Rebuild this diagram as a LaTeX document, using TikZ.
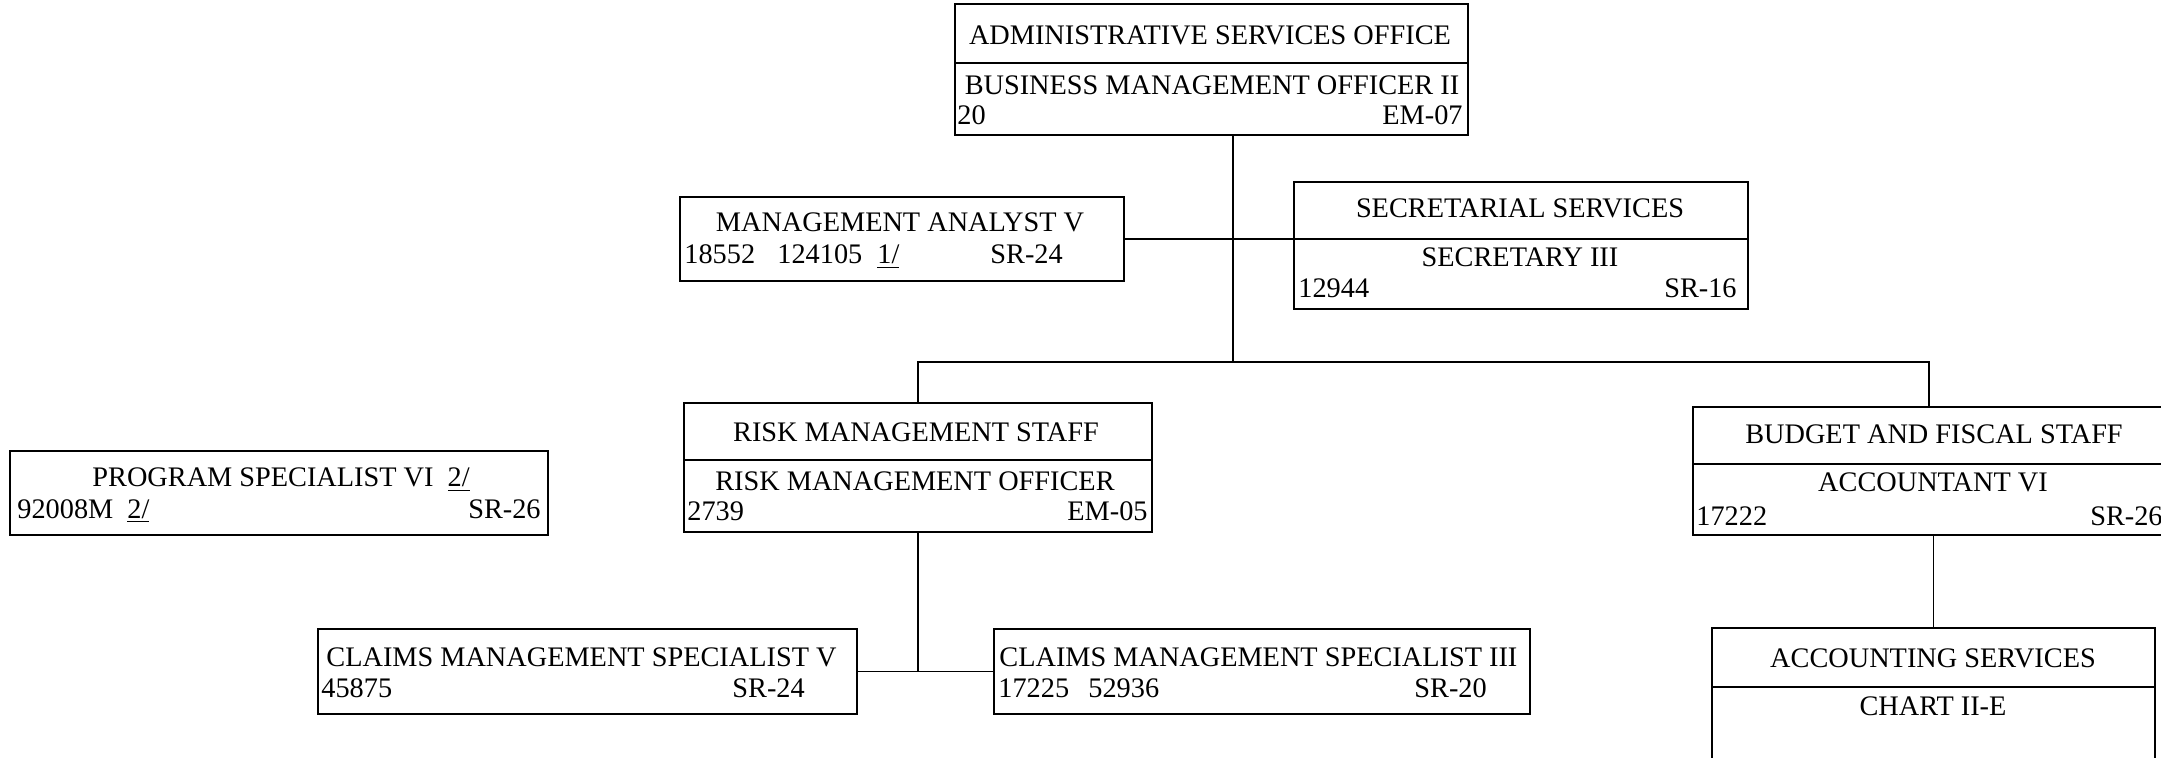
\documentclass[tikz,border=0pt]{standalone}
\usepackage{fontspec}
\setmainfont{Liberation Serif}
\usepackage{tikz}
\usetikzlibrary{positioning}
\tikzset{
unitbox/.style={ % Outline of each unit or position
draw, line width=.9pt, inner sep=0pt},
lbl/.style={ % Text inside the boxes
inner sep=0pt, anchor=base, font=\fontsize{14.15}{16}\selectfont},
lblw/.style={lbl, anchor=base west},
lble/.style={lbl, anchor=base east},
link/.style={draw, line width=.9pt}}

\begin{document}
\begin{tikzpicture}[x=0.5pt, y=-0.5pt]

    \useasboundingbox (0,0) rectangle (2161,758);
    \clip (0,0) rectangle (2161,758);

    % boxes
    \node[unitbox, minimum width=256.5pt, minimum height=65.5pt] (aso) at (1211.5,69.5) {};
    \node[unitbox, minimum width=222pt, minimum height=42pt] (mav) at (902,239) {};
    \node[unitbox, minimum width=227pt, minimum height=63.5pt] (sec) at (1521,245.5) {};
    \node[unitbox, minimum width=234pt, minimum height=64.5pt] (rms) at (918,467.5) {};
    \node[unitbox, minimum width=244pt, minimum height=64pt] (bfs) at (1937,471) {};
    \node[unitbox, minimum width=221.5pt, minimum height=86pt] (acc) at (1933.5,714) {};
    \node[unitbox, minimum width=269pt, minimum height=42pt] (psv) at (279,493) {};
    \node[unitbox, minimum width=269.5pt, minimum height=42.5pt] (cmv) at (587.5,671.5) {};
    \node[unitbox, minimum width=268pt, minimum height=42.5pt] (cm3) at (1262,671.5) {};

    % dividers
    \draw[link] (aso.west |- 0,63) -- (aso.east |- 0,63);
    \draw[link] (sec.west |- 0,239) -- (sec.east |- 0,239);
    \draw[link] (rms.west |- 0,460) -- (rms.east |- 0,460);
    \draw[link] (bfs.west |- 0,464) -- (bfs.east |- 0,464);
    \draw[link] (acc.west |- 0,687) -- (acc.east |- 0,687);

    % texts
    \node[lbl] (asoName) at (1210,45) {ADMINISTRATIVE SERVICES OFFICE};
    \node[lbl] (asoPos) at (1212,95) {BUSINESS MANAGEMENT OFFICER II};
    \node[lblw] (asoNo) at (957,125) {20};
    \node[lble] (asoGr) at (1463,125) {EM-07};

    \node[lbl] (mavPos) at (900,232) {MANAGEMENT ANALYST V};
    \node[lblw] (mavNoA) at (684,264) {18552};
    \node[lblw] (mavNoB) at (777,264) {124105};
    \node[lblw] (mavNote) at (877,264) {\underline{1/}};
    \node[lblw] (mavGr) at (990,264) {SR-24};

    \node[lbl] (secName) at (1520,218) {SECRETARIAL SERVICES};
    \node[lbl] (secPos) at (1520,267) {SECRETARY III};
    \node[lblw] (secNo) at (1298,298) {12944};
    \node[lble] (secGr) at (1737,298) {SR-16};

    \node[lbl] (rmsName) at (916,442) {RISK MANAGEMENT STAFF};
    \node[lbl] (rmsPos) at (915,490) {RISK MANAGEMENT OFFICER};
    \node[lblw] (rmsNo) at (687,520) {2739};
    \node[lble] (rmsGr) at (1148,520) {EM-05};

    \node[lbl] (bfsName) at (1934,444) {BUDGET AND FISCAL STAFF};
    \node[lbl] (bfsPos) at (1933,492) {ACCOUNTANT VI};
    \node[lblw] (bfsNo) at (1696,525) {17222};
    \node[lble] (bfsGr) at (2163,525) {SR-26};

    \node[lbl] (accName) at (1933,667) {ACCOUNTING SERVICES};
    \node[lbl] (accRef) at (1933,715) {CHART II-E};

    \node[lblw] (psvPos) at (92,487) {PROGRAM SPECIALIST VI\ \ \underline{2/}};
    \node[lblw] (psvNo) at (17,518) {92008M\ \ \underline{2/}};
    \node[lble] (psvGr) at (541,518) {SR-26};

    \node[lblw] (cmvPos) at (326,666) {CLAIMS MANAGEMENT SPECIALIST V};
    \node[lblw] (cmvNo) at (321,697) {45875};
    \node[lblw] (cmvGr) at (732,697) {SR-24};

    \node[lblw] (cm3Pos) at (999,666) {CLAIMS MANAGEMENT SPECIALIST III};
    \node[lblw] (cm3NoA) at (998,697) {17225};
    \node[lblw] (cm3NoB) at (1088,697) {52936};
    \node[lblw] (cm3Gr) at (1414,697) {SR-20};

    % connectors
    \coordinate (hub) at (1233,362);
    \draw[link] (aso.south -| hub) -- (hub);
    \draw[link] (mav.east) -- (mav.east -| sec.west);
    \draw[link] (rms.north) |- (hub) -| ([xshift=-4pt]bfs.north);
    \draw[link] (bfs.south -| acc.north) -- (acc.north);
    \draw[link] (rms.south) -- (rms.south |- cmv.east);
    \draw[link] (cmv.east) -- (cm3.west);

\end{tikzpicture}
\end{document}
